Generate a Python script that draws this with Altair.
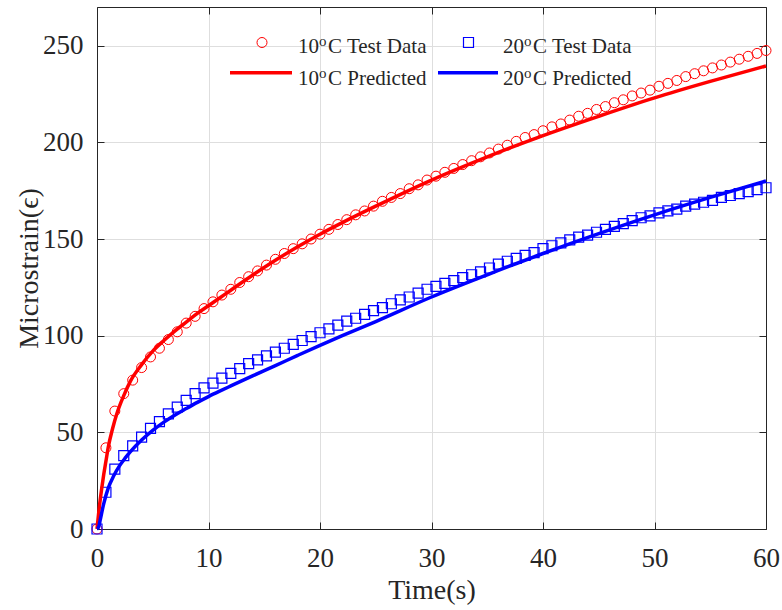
import altair as alt
import pandas as pd

# ---------------- data ----------------
t_test = [0.0, 0.8, 1.6, 2.4, 3.2, 4.0, 4.8, 5.6, 6.4, 7.2,
          8.0, 8.8, 9.6, 10.4, 11.2, 12.0, 12.8, 13.6, 14.4, 15.2,
          16.0, 16.8, 17.6, 18.4, 19.2, 20.0, 20.8, 21.6, 22.4, 23.2,
          24.0, 24.8, 25.6, 26.4, 27.2, 28.0, 28.8, 29.6, 30.4, 31.2,
          32.0, 32.8, 33.6, 34.4, 35.2, 36.0, 36.8, 37.6, 38.4, 39.2,
          40.0, 40.8, 41.6, 42.4, 43.2, 44.0, 44.8, 45.6, 46.4, 47.2,
          48.0, 48.8, 49.6, 50.4, 51.2, 52.0, 52.8, 53.6, 54.4, 55.2,
          56.0, 56.8, 57.6, 58.4, 59.2, 60.0]

red_test = [0, 42, 61, 70, 77, 83.5, 89, 93.5, 98, 102,
            106.5, 110, 114, 117.5, 121, 124, 127.5, 130.5, 133.5, 136.5,
            139.5, 142.5, 145, 147.5, 150, 152.5, 155, 157.5, 160, 162.5,
            164.5, 167, 169.5, 171.5, 173.5, 176, 178, 180.5, 182.5, 184.5,
            186.5, 188.5, 190.5, 192.5, 194.5, 196.5, 198.5, 200.5, 202.5, 204,
            206, 208, 209.5, 211.5, 213.5, 215, 217, 218.5, 220.5, 222,
            224, 225.5, 227, 229, 230.5, 232, 234, 235.5, 237, 238.5,
            240, 241.5, 243, 244.5, 246, 247.5]

blue_test = [0, 19, 31, 38, 43, 47.5, 52, 55.5, 59.5, 63,
             66.5, 70, 73, 75.5, 78, 80.5, 83, 85.5, 87.5, 89.5,
             91.5, 93.5, 95.5, 97.5, 99.5, 101.5, 103.5, 105.5, 107.5, 109,
             111, 113, 114.5, 116.5, 118.5, 120, 122, 124, 125.5, 127,
             128.5, 130, 131.5, 133, 135, 137, 138.5, 140, 141.5, 143,
             145, 146.5, 148, 149.5, 151, 152, 153.5, 155, 156.5, 158,
             159.5, 161, 162, 163.5, 164.5, 165.5, 167, 168, 169, 170,
             171.5, 172.5, 173.5, 174.5, 175.5, 176.5]

red_pred_t = [0, 0.2, 0.4, 0.6, 0.8, 1.0, 1.4, 1.8, 2.4, 3,
              4, 5, 6, 7, 8, 9, 10, 11, 12, 14,
              16, 18, 20, 22, 25, 30, 35, 40, 45, 50,
              55, 60]
red_pred = [0, 11, 20, 28, 35, 42, 52, 60, 69, 76.5,
            85, 92, 97.5, 102.5, 107, 111.5, 115.5, 119.5, 123.5, 131.5,
            139, 146, 152.5, 158.5, 167, 180.5, 192.5, 203.5, 213.5, 223,
            231.5, 239.5]

blue_pred_t = [0, 0.15, 0.3, 0.6, 1.0, 1.5, 2.0, 2.5, 3.0, 4,
               5, 6, 7, 8, 9, 10, 11, 12, 14, 16,
               18, 20, 22, 25, 30, 35, 40, 45, 50, 55,
               60]
blue_pred = [0, 1, 5, 13, 21, 27.5, 32.5, 36.5, 40, 46,
             51, 55.3, 59, 62.3, 65.5, 68.5, 71.3, 74, 79.3, 84.5,
             89.8, 95, 100, 107.3, 120, 131.5, 142.5, 152.8, 162.5, 171.5,
             180]

x_ticks = [0, 10, 20, 30, 40, 50, 60]
y_ticks = [0, 50, 100, 150, 200, 250]
legend_temps = ["10", "20"]
legend_kinds = ["C Test Data", "C Predicted"]
x_title = "Time(s)"
y_title = "Microstrain(\u03f5)"

# ---------------- styling ----------------
W, H = 669, 522
FONT = "Liberation Serif, Times New Roman, serif"
INK = "#262626"
RED = "#ff0000"
BLUE = "#0000ff"
GRID = "#dedede"

xs = alt.Scale(domain=[0, 60], nice=False, zero=False)
ys = alt.Scale(domain=[0, 270], nice=False, zero=False)

ax_x_main = alt.Axis(values=x_ticks, title=x_title, grid=True, gridColor=GRID,
                     ticks=False, tickSize=0, domain=True, domainColor=INK,
                     labelFlush=False, labelOverlap=False,
                     labelFont=FONT, labelFontSize=27, labelColor=INK, labelPadding=16,
                     titleFont=FONT, titleFontSize=28, titleFontWeight="normal",
                     titleColor=INK, titleY=61, titleBaseline="middle")
ax_y_main = alt.Axis(values=y_ticks, title=y_title, grid=True, gridColor=GRID,
                     ticks=False, tickSize=0, domain=True, domainColor=INK,
                     labelFlush=False, labelOverlap=False,
                     labelFont=FONT, labelFontSize=27, labelColor=INK, labelPadding=14,
                     titleFont=FONT, titleFontSize=28, titleFontWeight="normal",
                     titleColor=INK, titleX=-68, titleY=H / 2, titleAngle=270,
                     titleBaseline="middle", titleAlign="center")

ax_x_in_bottom = alt.Axis(orient="top", offset=-H, values=x_ticks, labels=False,
                          domain=False, grid=False, ticks=True, tickSize=7,
                          tickColor=INK, title=None)
ax_x_top = alt.Axis(orient="bottom", offset=-H, values=x_ticks, labels=False,
                    domain=True, domainColor=INK, grid=False, ticks=True,
                    tickSize=7, tickColor=INK, title=None)
ax_y_in_left = alt.Axis(orient="right", offset=-W, values=y_ticks, labels=False,
                        domain=False, grid=False, ticks=True, tickSize=7,
                        tickColor=INK, title=None)
ax_y_right = alt.Axis(orient="left", offset=-W, values=y_ticks, labels=False,
                      domain=True, domainColor=INK, grid=False, ticks=True,
                      tickSize=7, tickColor=INK, title=None)

df_red = pd.DataFrame({"t": t_test, "v": red_test})
df_blue = pd.DataFrame({"t": t_test, "v": blue_test})
df_red_p = pd.DataFrame({"t": red_pred_t, "v": red_pred})
df_blue_p = pd.DataFrame({"t": blue_pred_t, "v": blue_pred})

red_pts = alt.Chart(df_red).mark_point(
    shape="circle", filled=False, stroke=RED, strokeWidth=1, size=100, opacity=1
).encode(x=alt.X("t:Q", scale=xs, axis=ax_x_main),
         y=alt.Y("v:Q", scale=ys, axis=ax_y_main))

blue_pts = alt.Chart(df_blue).mark_point(
    shape="square", filled=False, stroke=BLUE, strokeWidth=1.2, size=100, opacity=1
).encode(x=alt.X("t:Q", scale=xs, axis=ax_x_in_bottom),
         y=alt.Y("v:Q", scale=ys, axis=ax_y_in_left))

red_line = alt.Chart(df_red_p).mark_line(
    color=RED, strokeWidth=3.5, interpolate="monotone"
).encode(x=alt.X("t:Q", scale=xs, axis=ax_x_top),
         y=alt.Y("v:Q", scale=ys, axis=ax_y_right))

blue_line = alt.Chart(df_blue_p).mark_line(
    color=BLUE, strokeWidth=3.5, interpolate="monotone"
).encode(x=alt.X("t:Q", scale=xs, axis=None),
         y=alt.Y("v:Q", scale=ys, axis=None))

# ---------------- manual legend ----------------
one = alt.Data(values=[{"k": 1}])


def txt(s, x, y, size):
    return alt.Chart(one).mark_text(
        text=s, font=FONT, fontSize=size, color=INK, align="left",
        baseline="alphabetic"
    ).encode(x=alt.value(x), y=alt.value(y))


def label(temp, kind, x, y):
    return [txt(temp, x, y, 21), txt("o", x + 21, y - 7, 15), txt(kind, x + 30, y, 21)]


legend_layers = []
legend_layers += label(legend_temps[0], legend_kinds[0], 201, 46)
legend_layers += label(legend_temps[1], legend_kinds[0], 406, 46)
legend_layers += label(legend_temps[0], legend_kinds[1], 201, 78)
legend_layers += label(legend_temps[1], legend_kinds[1], 406, 78)

leg_circle = alt.Chart(one).mark_point(
    shape="circle", filled=False, stroke=RED, strokeWidth=1, size=100, opacity=1
).encode(x=alt.value(165), y=alt.value(35.5))
leg_square = alt.Chart(one).mark_point(
    shape="square", filled=False, stroke=BLUE, strokeWidth=1.2, size=100, opacity=1
).encode(x=alt.value(371.5), y=alt.value(35.5))
leg_red_line = alt.Chart(one).mark_rule(color=RED, strokeWidth=3.5).encode(
    x=alt.value(133), x2=alt.value(195), y=alt.value(65.7))
leg_blue_line = alt.Chart(one).mark_rule(color=BLUE, strokeWidth=3.5).encode(
    x=alt.value(341), x2=alt.value(401), y=alt.value(65.7))

chart = alt.layer(
    red_pts, blue_pts, red_line, blue_line,
    leg_circle, leg_square, leg_red_line, leg_blue_line, *legend_layers
).resolve_axis(x="independent", y="independent").properties(
    width=W, height=H,
    autosize=alt.AutoSizeParams(type="none"),
    padding={"left": 97, "top": 7, "right": 16, "bottom": 81},
    background="white",
).configure_view(stroke=None)

chart.save("out.html", embed_options={"renderer": "svg", "actions": False})
